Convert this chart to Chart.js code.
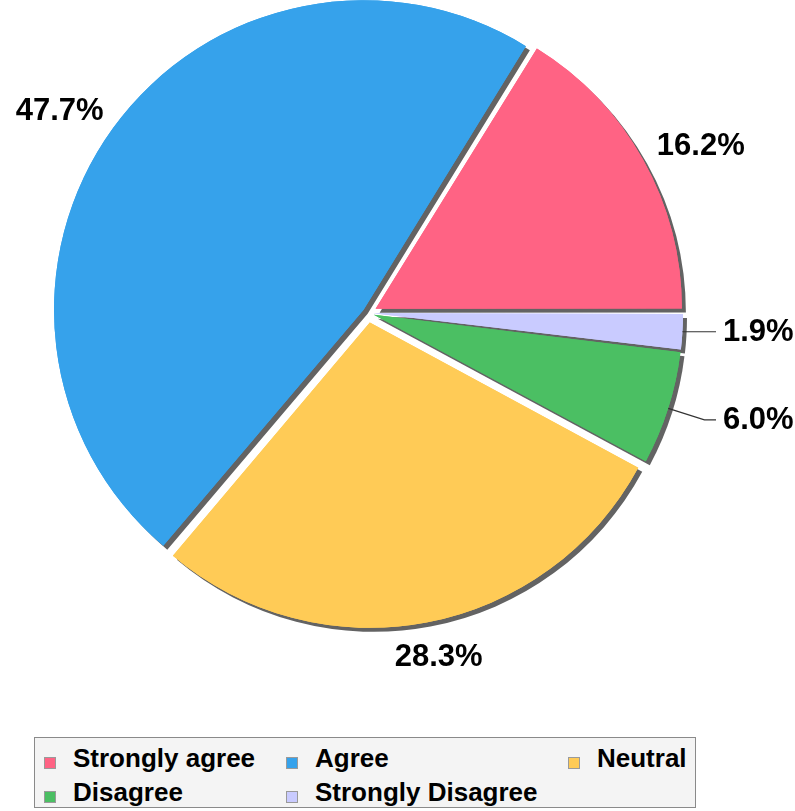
<!DOCTYPE html>
<html>
<head>
<meta charset="utf-8">
<script src="https://cdn.jsdelivr.net/npm/chart.js@4.4.1/dist/chart.umd.min.js"></script>
<style>
    body { margin: 0; background: #fff; font-family: "Liberation Sans", Arial, sans-serif; }
    #wrap { position: relative; width: 795px; height: 811px; overflow: hidden; }
    #pie { position: absolute; left: 0; top: 0; }
    #legend {
        position: absolute; left: 34px; top: 737px; width: 660px; height: 69px;
        background: #f4f4f4; border: 1px solid #8a8a8a;
    }
    .item { position: absolute; font-weight: bold; font-size: 26px; line-height: 30px; color: #000; white-space: nowrap; }
    .box { position: absolute; width: 10px; height: 10px; border: 1px solid #9a9a9a; }
</style>
</head>
<body>
<div id="wrap">
    <canvas id="pie" width="795" height="720"></canvas>
    <div id="legend"></div>
</div>
<script>
// Chart data (legend order)
const categories = ["Strongly agree", "Agree", "Neutral", "Disagree", "Strongly Disagree"];
const percents = [16.2, 47.7, 28.3, 6.0, 1.9];
const colors = ["#ff6384", "#36a2eb", "#ffcb56", "#4bbf63", "#c9cbff"];

// Legend (HTML, 3 columns)
const legend = document.getElementById("legend");
const colX = [9, 251, 533];
const rowY = [5, 39];
categories.forEach((name, i) => {
    const col = i % 3, row = Math.floor(i / 3);
    const box = document.createElement("div");
    box.className = "box";
    box.style.left = colX[col] + "px";
    box.style.top = (rowY[row] + 14) + "px";
    box.style.background = colors[i];
    legend.appendChild(box);
    const txt = document.createElement("div");
    txt.className = "item";
    txt.style.left = (colX[col] + 29) + "px";
    txt.style.top = rowY[row] + "px";
    txt.textContent = name;
    legend.appendChild(txt);
});

// Slices go counter-clockwise from 3 o'clock in the picture, Chart.js goes clockwise -> reverse
const order = categories.map((_, i) => i).reverse();
const pieValues = order.map(i => percents[i]);
const pieColors = order.map(i => colors[i]);
const pieLabels = order.map(i => categories[i]);

// Every slice pulled out by the same distance; Chart.js scales the offset by the slice size
const pull = 10;
const total = pieValues.reduce((a, b) => a + b, 0);
const pieOffsets = pieValues.map(v => {
    const circ = v / total * Math.PI * 2;
    const fix = 1 - Math.sin(Math.min(Math.PI, circ));
    return 4 * pull / (1 + fix);
});

function sliceCenter(arc) {
    const mid = (arc.startAngle + arc.endAngle) / 2;
    const circ = arc.endAngle - arc.startAngle;
    const fix = 1 - Math.sin(Math.min(Math.PI, circ));
    const t = (arc.options.offset || 0) / 4 * (1 + fix);
    return { x: arc.x + Math.cos(mid) * t, y: arc.y + Math.sin(mid) * t, mid };
}

const shadowAndLabels = {
    id: "shadowAndLabels",
    beforeDatasetsDraw(chart) {
        const ctx = chart.ctx;
        ctx.save();
        ctx.shadowColor = "#636363";
        ctx.shadowOffsetX = 4;
        ctx.shadowOffsetY = 4;
        ctx.shadowBlur = 0;
        chart.getDatasetMeta(0).data.forEach(arc => arc.draw(ctx));
        ctx.restore();
    },
    afterDatasetsDraw(chart) {
        const ctx = chart.ctx;
        const fs = 31;
        ctx.save();
        ctx.font = "bold " + fs + "px 'Liberation Sans', Arial, sans-serif";
        ctx.fillStyle = "#000";
        ctx.strokeStyle = "#333";
        ctx.lineWidth = 1.2;
        chart.getDatasetMeta(0).data.forEach((arc, i) => {
            const c = sliceCenter(arc);
            const r = arc.outerRadius;
            const text = pieValues[i].toFixed(1) + "%";
            const w = ctx.measureText(text).width;
            const h = fs * 0.72;
            const dx = Math.cos(c.mid), dy = Math.sin(c.mid);
            if (pieValues[i] >= 10) {
                const d = r + 22;
                const tx = c.x + dx * d + dx * w / 2;
                const ty = c.y + dy * d + dy * h / 2;
                ctx.textAlign = "center";
                ctx.textBaseline = "alphabetic";
                ctx.fillText(text, tx, ty + h / 2);
            } else {
                const endX = chart.chartArea.left + chart.chartArea.width / 2 + r + 43;
                const p0 = { x: c.x + dx * r, y: c.y + dy * r };
                let p1 = { x: c.x + dx * (r + 38), y: c.y + dy * (r + 38) };
                if (p1.x > endX - 8) p1 = { x: p0.x, y: p0.y };
                ctx.beginPath();
                ctx.moveTo(p0.x, p0.y);
                ctx.lineTo(p1.x, p1.y);
                ctx.lineTo(endX, p1.y);
                ctx.stroke();
                ctx.textAlign = "left";
                ctx.textBaseline = "alphabetic";
                ctx.fillText(text, endX + 7, p1.y - 2 + h / 2);
            }
        });
        ctx.restore();
    }
};

const ctx = document.getElementById("pie").getContext("2d");
new Chart(ctx, {
    type: "pie",
    data: {
        labels: pieLabels,
        datasets: [{
            data: pieValues,
            backgroundColor: pieColors,
            borderWidth: 0,
            offset: pieOffsets,
        }],
    },
    options: {
        responsive: false,
        animation: false,
        events: [],
        rotation: 90,
        radius: 305,
        layout: { padding: { left: 0, right: 59, top: 2, bottom: 96 } },
        plugins: {
            legend: { display: false },
            tooltip: { enabled: false },
        },
    },
    plugins: [shadowAndLabels],
});
</script>
</body>
</html>
